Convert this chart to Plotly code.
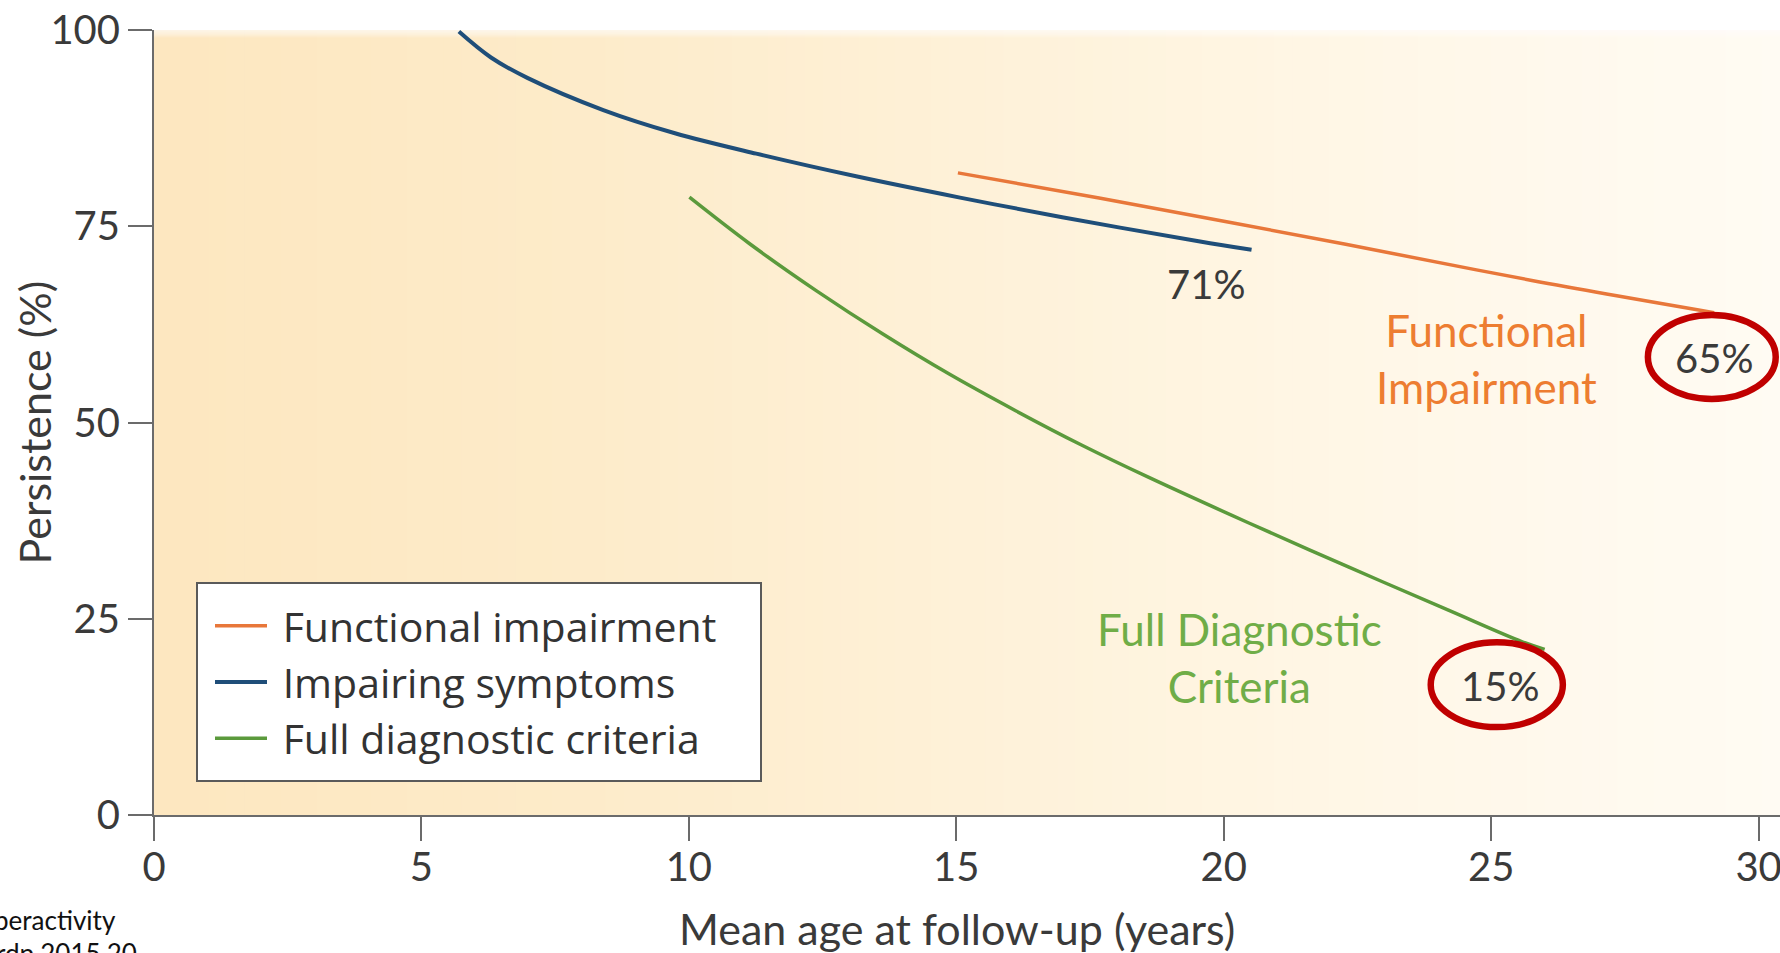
import plotly.graph_objects as go

# ---- data ----
impairing_x = [5.70, 6.30, 6.98, 8.40, 9.74, 11.26, 13.17, 15.07, 16.98, 19.53, 20.52]
impairing_y = [99.8, 96.5, 93.9, 89.8, 86.85, 84.25, 81.3, 78.65, 76.15, 73.1, 72.0]

functional_x = [15.03, 17.67, 22.28, 25.76, 29.17]
functional_y = [81.8, 78.6, 72.7, 68.1, 64.0]

full_x = [10.01, 11.13, 12.38, 13.62, 14.86, 16.11, 17.35, 18.60, 20.47, 22.33, 24.20, 25.57, 26.0]
full_y = [78.7, 72.8, 66.8, 61.3, 56.2, 51.5, 47.1, 43.0, 37.2, 31.6, 26.1, 22.1, 21.1]

series_names = ["Functional impairment", "Impairing symptoms", "Full diagnostic criteria"]
x_ticks = [0, 5, 10, 15, 20, 25, 30]
y_ticks = [0, 25, 50, 75, 100]

# annotation labels
pct_labels = ["71%", "65%", "15%"]
pct_x = [19.67, 29.16, 25.16]
pct_y = [67.6, 58.2, 16.4]

ORANGE = "#e8773a"
BLUE = "#1f4e79"
GREEN = "#5b9a3c"
TXT = "#3a3a3a"

W, H = 1780, 953
L, R, T, B = 154, 0, 30, 138
pw, ph = W - L - R, H - T - B

def px2paper_x(px):
    return (px - L) / pw

def py2paper_y(py):
    return (H - B - py) / ph

fig = go.Figure()
fig.add_trace(go.Scatter(x=functional_x, y=functional_y, mode="lines", name="\u00a0" + series_names[0],
                         line=dict(color=ORANGE, width=3.5, shape="spline", smoothing=1)))
fig.add_trace(go.Scatter(x=impairing_x, y=impairing_y, mode="lines", name="\u00a0" + series_names[1],
                         line=dict(color=BLUE, width=4, shape="spline", smoothing=1)))
fig.add_trace(go.Scatter(x=full_x, y=full_y, mode="lines", name="\u00a0" + series_names[2],
                         line=dict(color=GREEN, width=3.5, shape="spline", smoothing=1)))

# background gradient (decoration)
stops = [(0.0, (253, 231, 192)), (0.25, (253, 235, 201)), (0.5, (254, 241, 216)),
         (0.75, (255, 247, 231)), (1.0, (255, 251, 243))]

def grad(t):
    for (t0, a), (t1, b) in zip(stops[:-1], stops[1:]):
        if t <= t1:
            u = (t - t0) / (t1 - t0)
            return tuple(int(round(a[k] + (b[k] - a[k]) * u)) for k in range(3))
    return stops[-1][1]

shapes = []
n = 90
for i in range(n):
    col = grad(i / (n - 1))
    shapes.append(dict(type="rect", xref="paper", yref="paper", x0=i / n, x1=(i + 1) / n + 0.002,
                       y0=0, y1=1, fillcolor="rgb(%d,%d,%d)" % col, line=dict(width=0), layer="below"))
# top soft fade
for j in range(6):
    shapes.append(dict(type="rect", xref="paper", yref="paper", x0=0, x1=1,
                       y0=1 - (j + 1) * 0.0016, y1=1, fillcolor="rgba(255,255,255,0.15)",
                       line=dict(width=0), layer="below"))

# legend frame
shapes.append(dict(type="rect", xref="paper", yref="paper",
                   x0=px2paper_x(197), x1=px2paper_x(761), y0=py2paper_y(781), y1=py2paper_y(583),
                   fillcolor="white", line=dict(color="#5a5a5a", width=2), layer="above"))

# red ellipses
shapes.append(dict(type="circle", xref="x", yref="y", x0=27.93, x1=30.32, y0=53.0, y1=63.7,
                   line=dict(color="#c00000", width=6.5)))
shapes.append(dict(type="circle", xref="x", yref="y", x0=23.87, x1=26.34, y0=11.2, y1=22.0,
                   line=dict(color="#c00000", width=6.5)))

annotations = []
for lbl, ax_, ay_ in zip(pct_labels, pct_x, pct_y):
    annotations.append(dict(x=ax_, y=ay_, xref="x", yref="y", text=lbl, showarrow=False,
                            font=dict(family="Lato", size=40, color=TXT)))
annotations.append(dict(x=24.92, y=58.2, xref="x", yref="y", text="Functional<br>Impairment",
                        showarrow=False, font=dict(family="Lato", size=44, color="#ed7d31")))
annotations.append(dict(x=20.30, y=20.1, xref="x", yref="y", text="Full Diagnostic<br>Criteria",
                        showarrow=False, font=dict(family="Lato", size=44, color="#70ad47")))
# axis titles
annotations.append(dict(x=px2paper_x(34), y=0.5, xref="paper", yref="paper", text="Persistence (%)",
                        textangle=-90, showarrow=False, xanchor="center", yanchor="middle",
                        font=dict(family="Lato", size=43, color=TXT)))
annotations.append(dict(x=px2paper_x(957), y=py2paper_y(928), xref="paper", yref="paper",
                        text="Mean age at follow-up (years)", showarrow=False,
                        xanchor="center", yanchor="middle",
                        font=dict(family="Lato", size=43, color=TXT)))
# cropped source text
annotations.append(dict(x=px2paper_x(-8), y=py2paper_y(920), xref="paper", yref="paper",
                        text="peractivity", showarrow=False, xanchor="left", yanchor="middle",
                        font=dict(family="Lato", size=26, color="#111")))
annotations.append(dict(x=px2paper_x(-6), y=py2paper_y(953), xref="paper", yref="paper",
                        text="rdp.2015.20", showarrow=False, xanchor="left", yanchor="middle",
                        font=dict(family="Lato", size=26, color="#111")))

fig.update_layout(
    width=W, height=H,
    margin=dict(l=L, r=R, t=T, b=B, autoexpand=False),
    paper_bgcolor="white", plot_bgcolor="white",
    font=dict(family="Lato", color=TXT),
    shapes=shapes, annotations=annotations,
    legend=dict(x=px2paper_x(210), y=py2paper_y(682), xanchor="left", yanchor="middle",
                bgcolor="rgba(0,0,0,0)", borderwidth=0,
                font=dict(family="Open Sans", size=41, color="#333"), itemwidth=52,
                tracegroupgap=0),
    xaxis=dict(range=[0, 30.4], tickvals=x_ticks, showgrid=False, zeroline=False,
               showline=True, linecolor="#6b6b6b", linewidth=2,
               ticks="outside", ticklen=24, tickwidth=2, tickcolor="#6b6b6b",
               ticklabeloverflow="allow", ticklabelstandoff=-8,
               tickfont=dict(family="Lato", size=40, color=TXT)),
    yaxis=dict(range=[0, 100], tickvals=y_ticks, showgrid=False, zeroline=False,
               showline=True, linecolor="#6b6b6b", linewidth=2,
               ticks="outside", ticklen=24, tickwidth=2, tickcolor="#6b6b6b",
               tickfont=dict(family="Lato", size=40, color=TXT)),
)

fig.write_html("out.html", config={"displayModeBar": False},
               post_script="document.body.style.margin='0px';")
